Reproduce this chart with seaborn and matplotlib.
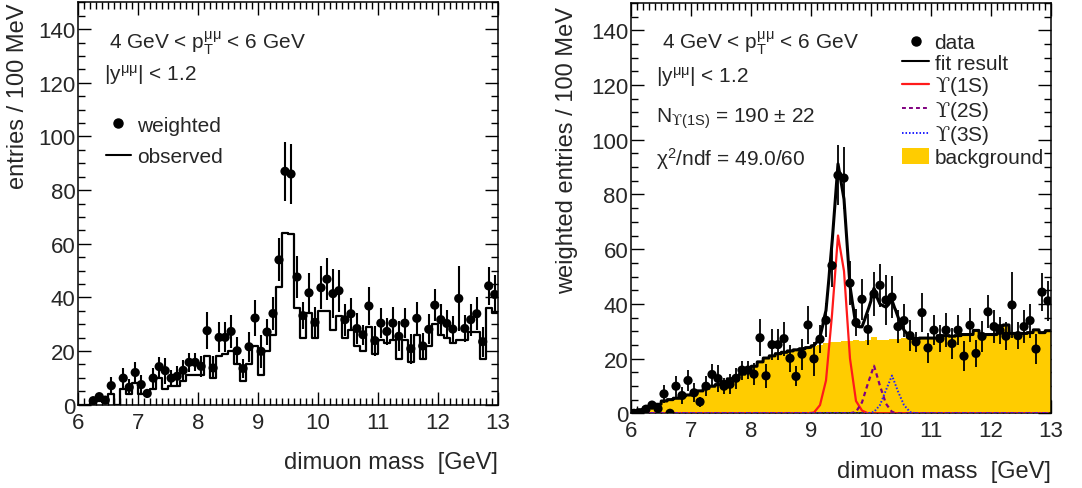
import numpy as np
import pandas as pd
import matplotlib
matplotlib.use("Agg")
import matplotlib.pyplot as plt
import seaborn as sns
from matplotlib.lines import Line2D
from matplotlib.patches import Patch
from matplotlib.ticker import MultipleLocator

# ---------------- data (100 MeV bins from 6 to 13 GeV) ----------------
mass_range = (6.0, 13.0)
n_bins = 70
bin_centers = np.round(np.linspace(6.05, 12.95, n_bins), 3)

weighted = [0.0, 0.0, 1.5, 3.0, 1.7, 7.1, 0.0, 9.9, 6.5, 12.0,
            7.5, 4.2, 9.9, 14.2, 12.7, 9.9, 10.6, 12.8, 15.8, 15.8,
            14.3, 27.6, 13.7, 25.1, 25.1, 27.3, 20.1, 13.5, 21.6, 32.3,
            19.9, 27.1, 34.0, 54.0, 87.0, 86.0, 47.6, 33.2, 41.7, 30.7,
            43.6, 46.8, 41.4, 42.5, 31.7, 33.9, 28.4, 26.1, 36.8, 23.9,
            30.4, 27.3, 30.4, 25.5, 30.4, 20.9, 32.2, 21.9, 28.1, 37.1,
            31.7, 30.3, 28.2, 39.6, 28.4, 31.7, 33.9, 23.5, 44.3, 41.1]

weighted_err = [0.0, 0.0, 1.0, 1.5, 1.0, 3.2, 0.0, 3.8, 3.0, 4.0,
                3.5, 1.8, 3.6, 3.7, 4.8, 3.0, 3.7, 3.9, 3.5, 3.4,
                4.0, 6.8, 4.3, 5.6, 5.6, 6.2, 5.0, 3.7, 5.6, 6.8,
                6.2, 5.0, 6.2, 8.0, 11.0, 11.3, 8.0, 5.0, 7.5, 5.6,
                8.0, 7.8, 9.0, 7.8, 6.0, 6.0, 5.6, 3.7, 7.0, 5.6,
                5.6, 5.0, 6.2, 5.6, 5.6, 5.6, 6.2, 5.0, 5.6, 6.0,
                6.0, 5.0, 5.0, 12.0, 5.0, 6.0, 6.2, 5.6, 7.0, 7.4]

observed = [0, 0, 1.5, 1.5, 1, 4, 0, 6, 4, 8,
            4, 4, 6, 10, 6, 7, 7, 9, 11, 11,
            11, 18, 10, 18, 19, 20, 15, 9, 15, 22,
            11, 20, 26, 44, 64, 63.5, 36, 25, 34, 25,
            35, 35, 28, 33, 25, 28, 22, 20, 29, 19,
            24, 23, 24, 17, 24, 16, 26, 17, 22, 30,
            26, 25, 23, 24, 24, 27, 27, 17, 36, 34]

background = [1.0, 1.3, 2.0, 2.7, 3.3, 4.5, 5.0, 5.5, 6.1, 6.7,
              7.1, 8.2, 9.1, 9.9, 10.5, 11.6, 12.6, 13.0, 14.3, 15.6,
              17.2, 18.8, 20.2, 21.0, 21.8, 22.3, 22.8, 23.2, 23.6, 24.0,
              24.5, 25.0, 25.6, 26.0, 26.2, 26.3, 26.5, 26.8, 26.6, 26.7,
              27.8, 26.9, 26.8, 27.0, 27.2, 27.4, 27.0, 27.3, 27.5, 27.5,
              27.5, 28.4, 28.4, 28.2, 28.4, 28.8, 28.8, 30.3, 28.5, 28.8,
              28.8, 32.0, 32.3, 29.2, 29.0, 29.2, 29.5, 30.5, 29.5, 30.2]

ups1s = [0]*30 + [0.3, 3, 12, 36, 65, 52, 20, 4.5, 1] + [0]*31
ups2s = [0]*37 + [0.5, 4, 11, 17.4, 10, 3.5, 0.5] + [0]*26
ups3s = [0]*40 + [0.5, 3, 8.5, 13.8, 8, 3, 0.5] + [0]*23

xlabel = "dimuon mass  [GeV]"
ylabel_left = "entries / 100 MeV"
ylabel_right = "weighted entries / 100 MeV"

# ---------------- style ----------------
sns.set_theme(style="ticks")
plt.rcParams["font.family"] = ["Liberation Sans", "DejaVu Sans"]
plt.rcParams["mathtext.fontset"] = "custom"
plt.rcParams["mathtext.rm"] = "Liberation Sans"
plt.rcParams["mathtext.it"] = "Liberation Sans:italic"
plt.rcParams["mathtext.bf"] = "Liberation Sans:bold"
plt.rcParams["mathtext.sf"] = "Liberation Sans"
plt.rcParams["mathtext.cal"] = "DejaVu Serif"
plt.rcParams["mathtext.fallback"] = "stixsans"

df = pd.DataFrame({"mass": bin_centers, "weighted": weighted, "err": weighted_err,
                   "observed": observed, "bkg": background,
                   "s1": ups1s, "s2": ups2s, "s3": ups3s})
df_nonzero = df[df["weighted"] > 0]

# fine grid for the fit result: background template (steps) + signal shapes
xf = np.linspace(6.0, 12.9999, 1401)
idx = np.clip(((xf - 6.0) / 0.1).astype(int), 0, n_bins - 1)
sig_f = (np.interp(xf, bin_centers, ups1s) + np.interp(xf, bin_centers, ups2s)
         + np.interp(xf, bin_centers, ups3s))
fit_df = pd.DataFrame({"mass": xf, "fit": np.asarray(background)[idx] + sig_f})

W, H = 1082, 489
fig = plt.figure(figsize=(W / 100, H / 100), dpi=100)
ax1 = fig.add_axes([78.3 / W, 1 - 405.7 / H, 419.4 / W, 402.4 / H])
ax2 = fig.add_axes([631 / W, 1 - 414.3 / H, 420 / W, 410.3 / H])

LABEL_FS = 17
TICK_FS = 16
TEXT_FS = 15
UPS = r"$\mathcal{ϒ}$"


def style_axis(ax):
    ax.set_xlim(6, 13)
    ax.set_ylim(0, 150)
    ax.xaxis.set_major_locator(MultipleLocator(1))
    ax.xaxis.set_minor_locator(MultipleLocator(0.1))
    ax.yaxis.set_major_locator(MultipleLocator(20))
    ax.yaxis.set_minor_locator(MultipleLocator(5))
    ax.tick_params(which="both", direction="in", top=True, right=True,
                   color="black", width=1.0)
    ax.tick_params(which="major", length=9.5)
    ax.tick_params(which="minor", length=4.8)
    ax.tick_params(axis="x", which="major", labelsize=TICK_FS, pad=5)
    ax.tick_params(axis="y", which="major", labelsize=TICK_FS, pad=2)
    for s in ax.spines.values():
        s.set_linewidth(1.1)
        s.set_color("black")
    ax.set_facecolor("white")


# ---------------- left panel ----------------
sns.histplot(data=df, x="mass", weights="observed", bins=n_bins, binrange=mass_range,
             element="step", fill=False, color="black", linewidth=1.6, ax=ax1)
ax1.errorbar(df_nonzero["mass"], df_nonzero["weighted"], yerr=df_nonzero["err"],
             fmt="none", ecolor="black", elinewidth=1.5, capsize=0, zorder=4)
sns.scatterplot(data=df_nonzero, x="mass", y="weighted", color="black", s=44,
                edgecolor="none", zorder=5, ax=ax1)
style_axis(ax1)
ax1.set_xlabel(xlabel, fontsize=LABEL_FS, loc="right")
ax1.set_ylabel(ylabel_left, fontsize=LABEL_FS, loc="top")
ax1.xaxis.set_label_coords(1.0, -0.142)
ax1.xaxis.label.set_verticalalignment("center")
ax1.yaxis.set_label_coords(-0.144, 1.0)
ax1.yaxis.label.set_verticalalignment("center")

ax1.text(0.074, 0.90, r"4 GeV < $\mathrm{p}_{\mathrm{T}}^{\mathrm{\mu\mu}}$ < 6 GeV",
         transform=ax1.transAxes, fontsize=TEXT_FS, va="center", ha="left")
ax1.text(0.062, 0.822, r"|$\mathrm{y}^{\mathrm{\mu\mu}}$| < 1.2",
         transform=ax1.transAxes, fontsize=TEXT_FS, va="center", ha="left")

h_left = [Line2D([], [], marker="o", color="black", linestyle="none", markersize=6.5),
          Line2D([], [], color="black", linewidth=1.5)]
ax1.legend(h_left, ["weighted", "observed"], loc="upper left",
           bbox_to_anchor=(0.065, 0.718), frameon=False, fontsize=TEXT_FS,
           handlelength=1.2, handletextpad=0.32, labelspacing=0.61,
           borderpad=0, borderaxespad=0)

# ---------------- right panel ----------------
sns.histplot(data=df, x="mass", weights="bkg", bins=n_bins, binrange=mass_range,
             element="step", fill=True, color="#FFCC00", alpha=1.0,
             linewidth=0, ax=ax2, zorder=1)
sns.lineplot(data=df, x="mass", y="s1", color="#FF1A1A", linewidth=1.6,
             estimator=None, sort=False, ax=ax2, zorder=3)
sns.lineplot(data=df, x="mass", y="s2", color="#800080", linewidth=1.6,
             linestyle=(0, (2.0, 1.6)), estimator=None, sort=False, ax=ax2, zorder=3)
sns.lineplot(data=df, x="mass", y="s3", color="#2020FF", linewidth=1.4,
             linestyle=(0, (0.8, 1.0)), estimator=None, sort=False, ax=ax2, zorder=3)
sns.lineplot(data=fit_df, x="mass", y="fit", color="black", linewidth=2.2,
             estimator=None, sort=False, ax=ax2, zorder=4)
ax2.errorbar(df["mass"], df["weighted"], yerr=df["err"], fmt="none",
             ecolor="black", elinewidth=1.3, capsize=0, zorder=5)
sns.scatterplot(data=df, x="mass", y="weighted", color="black", s=44,
                edgecolor="none", zorder=6, ax=ax2)
style_axis(ax2)
ax2.set_xlabel(xlabel, fontsize=LABEL_FS, loc="right")
ax2.set_ylabel(ylabel_right, fontsize=LABEL_FS, loc="top")
ax2.xaxis.set_label_coords(1.0, -0.14)
ax2.xaxis.label.set_verticalalignment("center")
ax2.yaxis.set_label_coords(-0.152, 0.993)
ax2.yaxis.label.set_verticalalignment("center")

ax2.text(0.073, 0.904, r"4 GeV < $\mathrm{p}_{\mathrm{T}}^{\mathrm{\mu\mu}}$ < 6 GeV",
         transform=ax2.transAxes, fontsize=TEXT_FS, va="center", ha="left")
ax2.text(0.06, 0.823, r"|$\mathrm{y}^{\mathrm{\mu\mu}}$| < 1.2",
         transform=ax2.transAxes, fontsize=TEXT_FS, va="center", ha="left")
ax2.text(0.06, 0.72, r"N$_{\mathcal{ϒ}\mathrm{(1S)}}$ = 190 ± 22",
         transform=ax2.transAxes, fontsize=TEXT_FS, va="center", ha="left")
ax2.text(0.06, 0.622, r"χ$^{2}$/ndf = 49.0/60",
         transform=ax2.transAxes, fontsize=TEXT_FS, va="center", ha="left")

h_right = [Line2D([], [], marker="o", color="black", linestyle="none", markersize=6.5),
           Line2D([], [], color="black", linewidth=1.5),
           Line2D([], [], color="#FF1A1A", linewidth=1.6),
           Line2D([], [], color="#800080", linewidth=1.4, linestyle=(0, (2.0, 1.6))),
           Line2D([], [], color="#2020FF", linewidth=1.4, linestyle=(0, (0.8, 1.0))),
           Patch(facecolor="#FFCC00", edgecolor="none")]
labels_right = ["data", "fit result", UPS + "(1S)", UPS + "(2S)", UPS + "(3S)", "background"]
ax2.legend(h_right, labels_right, loc="upper left", bbox_to_anchor=(0.646, 0.927),
           frameon=False, fontsize=TEXT_FS,
           handlelength=1.3, handleheight=0.8, handletextpad=0.25, labelspacing=0.07,
           borderpad=0, borderaxespad=0)

fig.savefig("out.png", dpi=100, facecolor="white")
